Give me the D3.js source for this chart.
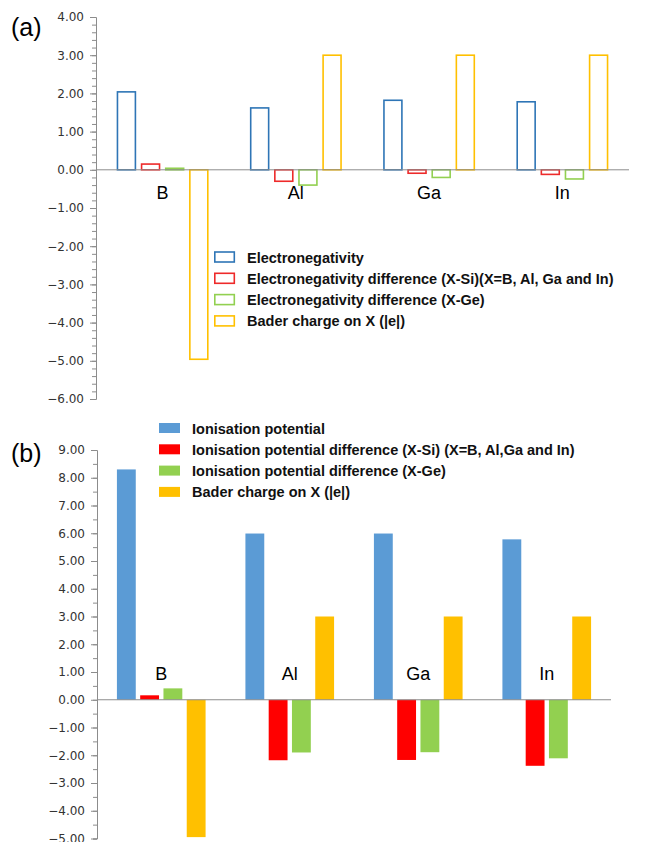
<!DOCTYPE html>
<html>
<head>
<meta charset="utf-8">
<script src="https://cdn.jsdelivr.net/npm/d3@7"></script>
<style>
	body { margin: 0; background: #fff; }
	svg { display: block; }
	.tick-label { font-family: "DejaVu Sans", sans-serif; font-size: 12px; fill: #333; }
	.cat-label { font-family: "Liberation Sans", Arial, sans-serif; font-size: 18px; fill: #000; }
	.legend-text { font-family: "Liberation Sans", Arial, sans-serif; font-size: 14.5px; font-weight: bold; fill: #111; }
	.panel-label { font-family: "Liberation Sans", Arial, sans-serif; font-size: 25px; fill: #000; }
</style>
</head>
<body>
<div id="app"></div>
<script>
// categories (the element X)
const elements = ["B", "Al", "Ga", "In"];

// panel (a) series
const seriesA = ["Electronegativity",
	"Electronegativity difference (X-Si)(X=B, Al, Ga and In)",
	"Electronegativity difference (X-Ge)",
	"Bader charge on X (|e|)"];
const electronegativity = [2.04, 1.62, 1.82, 1.78];
const enDiffSi = [0.15, -0.30, -0.09, -0.12];
const enDiffGe = [0.04, -0.40, -0.20, -0.24];
const baderA = [-4.96, 3.00, 3.00, 3.00];
const ticksA = [4, 3, 2, 1, 0, -1, -2, -3, -4, -5, -6];

// panel (b) series
const seriesB = ["Ionisation potential",
	"Ionisation potential difference (X-Si) (X=B, Al,Ga and In)",
	"Ionisation potential difference (X-Ge)",
	"Bader charge on X (|e|)"];
const ionisation = [8.30, 5.99, 5.99, 5.78];
const ipDiffSi = [0.16, -2.18, -2.17, -2.38];
const ipDiffGe = [0.41, -1.90, -1.89, -2.11];
const baderB = [-4.95, 3.00, 3.00, 3.00];
const ticksB = [9, 8, 7, 6, 5, 4, 3, 2, 1, 0, -1, -2, -3, -4, -5];

const colorsA = ["#2E75B6", "#EE2A2A", "#92D050", "#FFC000"];
const colorsB = ["#5B9BD5", "#FF0000", "#92D050", "#FFC000"];

const svg = d3.select("#app").append("svg")
	.attr("width", 654)
	.attr("height", 842);

function drawPanel(opts) {
	let g = svg.append("g");

	let x0 = d3.scaleBand()
		.domain(elements)
		.range([opts.left, opts.right])
		.paddingInner(0.31)
		.paddingOuter(0.155);

	let x1 = d3.scaleBand()
		.domain(d3.range(opts.values.length))
		.range([0, x0.bandwidth()])
		.paddingInner(0.19);

	let y = d3.scaleLinear()
		.domain(opts.domain)
		.range([opts.bottom, opts.top]);

	// flatten
	let rows = [];
	elements.forEach(function(e, i) {
		opts.values.forEach(function(vals, s) {
			rows.push({ cat: e, s: s, value: vals[i] });
		});
	});

	// bars
	let sw = opts.outline ? 1.6 : 0;
	g.selectAll(".bar")
		.data(rows)
		.enter()
		.append("rect")
			.attr("class", "bar")
			.attr("x", function(d) { return x0(d.cat) + x1(d.s) + sw / 2; })
			.attr("y", function(d) { return y(Math.max(0, d.value)); })
			.attr("width", x1.bandwidth() - sw)
			.attr("height", function(d) { return Math.abs(y(d.value) - y(0)); })
			.attr("fill", function(d) { return opts.outline ? "none" : opts.colors[d.s]; })
			.attr("stroke", function(d) { return opts.outline ? opts.colors[d.s] : "none"; })
			.attr("stroke-width", sw);

	// zero line
	g.append("line")
		.attr("x1", opts.left).attr("x2", opts.right)
		.attr("y1", y(0)).attr("y2", y(0))
		.attr("stroke", "#8c8c8c")
		.attr("stroke-width", 1);

	// y axis with minor ticks
	let minor = d3.range(opts.domain[0], opts.domain[1] + 1e-9, opts.minorStep);
	g.append("g")
		.attr("transform", "translate(" + opts.left + ",0)")
		.call(d3.axisLeft(y).tickValues(minor).tickSize(4).tickFormat(""))
		.call(function(a) {
			a.select(".domain").attr("stroke", "#8c8c8c");
			a.selectAll(".tick line").attr("stroke", "#8c8c8c");
		});

	g.append("g")
		.attr("transform", "translate(" + opts.left + ",0)")
		.call(d3.axisLeft(y).tickValues(opts.ticks).tickSize(6).tickPadding(6).tickFormat(d3.format(".2f")))
		.call(function(a) {
			a.select(".domain").remove();
			a.selectAll(".tick line").attr("stroke", "#8c8c8c");
			a.selectAll(".tick text").attr("class", "tick-label").attr("fill", null);
		});

	// category labels
	g.selectAll(".cat-label")
		.data(elements)
		.enter()
		.append("text")
			.attr("class", "cat-label")
			.attr("text-anchor", "middle")
			.attr("x", function(d) { return x0(d) + x0.bandwidth() / 2; })
			.attr("y", y(0) + opts.catDy)
			.text(function(d) { return d; });

	// legend
	let leg = g.selectAll(".legend")
		.data(opts.series)
		.enter()
		.append("g")
			.attr("class", "legend")
			.attr("transform", function(d, i) { return "translate(" + opts.legX + "," + (opts.legY + i * 21.3) + ")"; });

	leg.append("rect")
		.attr("x", opts.outline ? 0.8 : 0)
		.attr("y", -5)
		.attr("width", opts.outline ? 19.5 : 21)
		.attr("height", 10)
		.attr("fill", function(d, i) { return opts.outline ? "none" : opts.colors[i]; })
		.attr("stroke", function(d, i) { return opts.outline ? opts.colors[i] : "none"; })
		.attr("stroke-width", sw);

	leg.append("text")
		.attr("class", "legend-text")
		.attr("x", 33)
		.attr("y", 5.5)
		.text(function(d) { return d; });

	svg.append("text")
		.attr("class", "panel-label")
		.attr("x", 11)
		.attr("y", opts.labelY)
		.text(opts.label);
}

drawPanel({
	label: "(a)", labelY: 36,
	left: 96, right: 629, top: 17, bottom: 399,
	domain: [-6, 4], ticks: ticksA, minorStep: 0.2,
	values: [electronegativity, enDiffSi, enDiffGe, baderA],
	series: seriesA, colors: colorsA, outline: true,
	catDy: 29, legX: 214, legY: 257
});

drawPanel({
	label: "(b)", labelY: 462,
	left: 97, right: 611, top: 450, bottom: 838.5,
	domain: [-5, 9], ticks: ticksB, minorStep: 0.5,
	values: [ionisation, ipDiffSi, ipDiffGe, baderB],
	series: seriesB, colors: colorsB, outline: false,
	catDy: -20, legX: 159, legY: 428
});
</script>
</body>
</html>
